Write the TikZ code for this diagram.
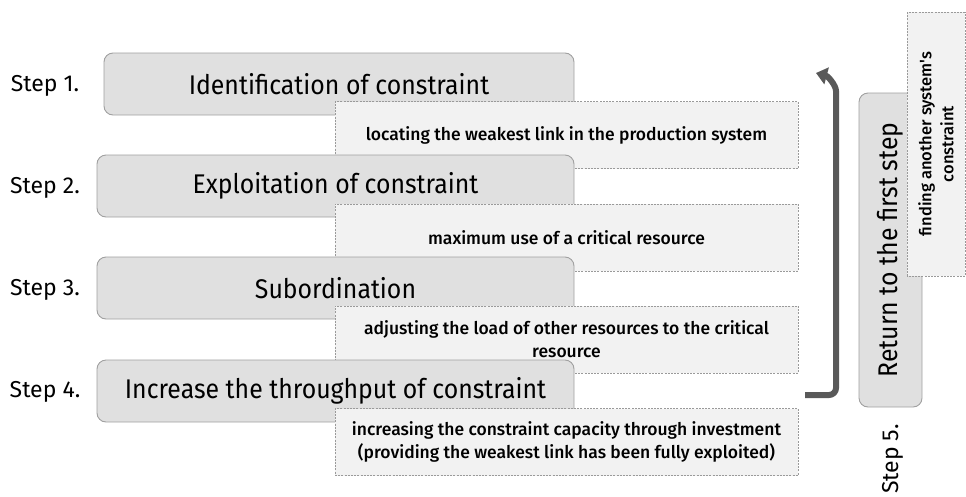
\documentclass[tikz,border=0pt]{standalone}
\usepackage{fontspec}
\setmainfont{Fira Sans}
\newfontfamily\condfont{Fira Sans}[FakeStretch=0.92]
\newfontfamily\smallfont{Fira Sans Medium}
\usetikzlibrary{arrows.meta}
\definecolor{boxfill}{HTML}{E0E0E0}
\definecolor{boxline}{HTML}{A0A0A0}
\definecolor{dashfill}{HTML}{F2F2F2}
\definecolor{dashline}{HTML}{9A9A9A}
\definecolor{arrowgray}{HTML}{595959}
\begin{document}
\begin{tikzpicture}[x=1pt,y=-1pt,
  mainbox/.style={draw=boxline, fill=boxfill, rounded corners=9pt, line width=0.9pt,
    minimum height=62pt, inner sep=0pt, font=\condfont\fontsize{27}{30}\selectfont},
  notebox/.style={draw=dashline, fill=dashfill, dash pattern=on 2pt off 1.2pt, line width=0.7pt,
    minimum width=463pt, minimum height=67pt, inner sep=2pt, align=center,
    font=\smallfont\fontsize{17.5}{23}\selectfont},
  steplabel/.style={inner sep=0pt, font=\fontsize{23}{26}\selectfont},
  looparrow/.style={draw=arrowgray, line width=6pt, -{Triangle[length=11pt,width=17pt]}}
]
\useasboundingbox (0,0) rectangle (966,496);

\node[steplabel] (s1) at (45,86) {Step 1.};
\node[steplabel] (s2) at (45,188) {Step 2.};
\node[steplabel] (s3) at (45,290) {Step 3.};
\node[steplabel] (s4) at (45,392) {Step 4.};

\node[mainbox, minimum width=470pt] (b1) at (339,84) {Identification of constraint};
\node[notebox] (d1) at (566.5,135) {locating the weakest link in the production system};
\node[mainbox, minimum width=477pt] (b2) at (335.5,186) {Exploitation of constraint};
\node[notebox] (d2) at (566.5,237.5) {maximum use of a critical resource};
\node[mainbox, minimum width=477pt] (b3) at (335.5,288) {Subordination};
\node[notebox] (d3) at (566.5,339.5) {adjusting the load of other resources to the critical\\resource};
\node[mainbox, minimum width=477pt] (b4) at (335.5,391) {Increase the throughput of constraint};
\node[notebox] (d4) at (566.5,442) {increasing the constraint capacity through investment\\(providing the weakest link has been fully exploited)};

\node[mainbox, minimum width=314pt, minimum height=63pt, rotate=90] (r) at (890.5,250) {Return to the first step};
\node[notebox, minimum width=264pt, minimum height=58pt, rotate=90,
  font=\smallfont\fontsize{16.5}{22}\selectfont] (rd) at (936,144) {finding another system's\\constraint};
\node[steplabel, rotate=90] (s5) at (893,459) {Step 5.};

\coordinate (a0) at (805,395);
\coordinate (a1) at (836,395);
\coordinate (a2) at (836,98);
\coordinate (a3) at (816,73);
\draw[looparrow, rounded corners=7pt] (a0) -- (a1) -- (a2) to[out=90,in=-15] (a3);
\end{tikzpicture}
\end{document}
